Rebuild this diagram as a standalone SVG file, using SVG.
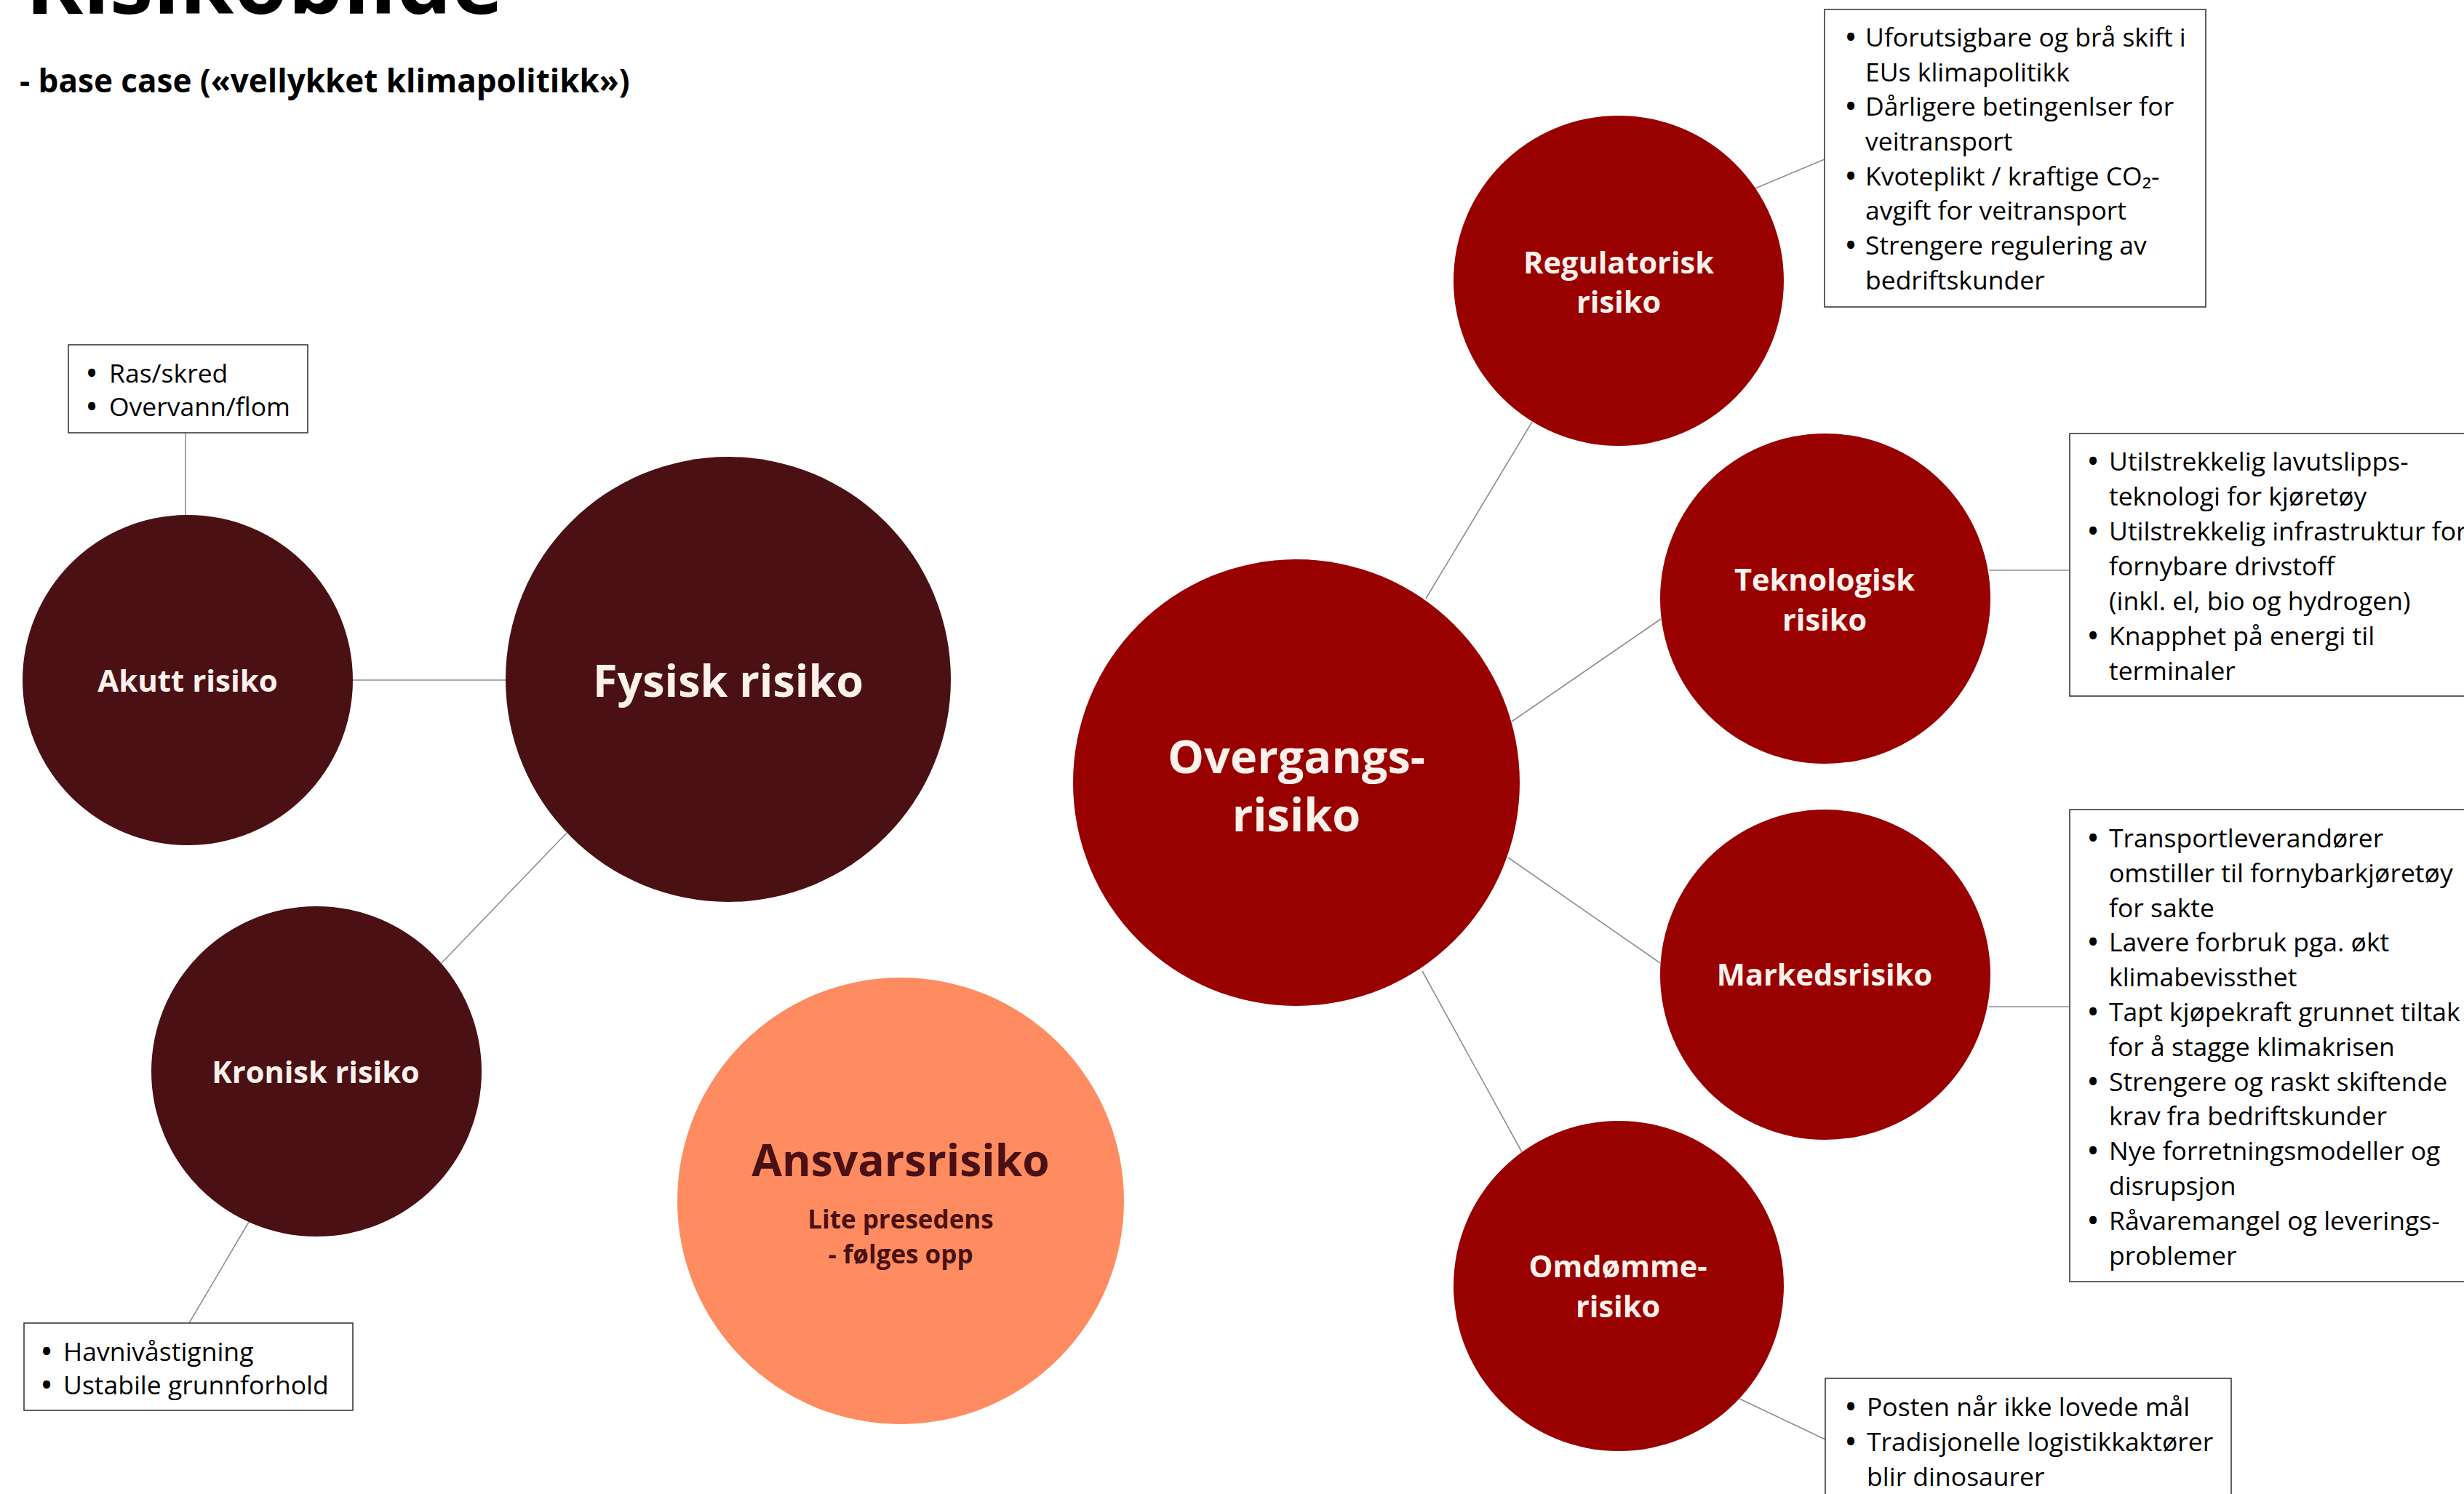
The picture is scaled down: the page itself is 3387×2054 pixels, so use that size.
<svg xmlns="http://www.w3.org/2000/svg" width="3387" height="2054" viewBox="0 0 3387 2054">
<style>
.dk{fill:#4a1013}
.rd{fill:#990000}
.sa{fill:#ff8c60}
.lbl{font-family:"Open Sans","Liberation Sans",sans-serif;font-weight:700;fill:#fdf1ec;text-anchor:middle}
.box{fill:#ffffff;stroke:#3a3a3a;stroke-width:1.6}
.bt{font-family:"Open Sans","Liberation Sans",sans-serif;font-size:35.5px;fill:#000}
.b{font-size:48px}
.con line{stroke:#8f8f8f;stroke-width:1.6}
</style>
<rect width="3387" height="2054" fill="#ffffff"/>
<g id="title">
<text x="35" y="19" font-family="Open Sans, Liberation Sans, sans-serif" font-weight="700" font-size="120" fill="#000">Risikobilde</text>
<text x="27" y="127" font-family="Open Sans, Liberation Sans, sans-serif" font-weight="700" font-size="44" fill="#000">- base case («vellykket klimapolitikk»)</text>
</g>
<g id="connectors" class="con">
<line x1="485" y1="935" x2="695" y2="935"/>
<line x1="255" y1="596" x2="255" y2="708"/>
<line x1="779" y1="1145" x2="607" y2="1324"/>
<line x1="342" y1="1680" x2="260" y2="1819"/>
<line x1="1960" y1="823" x2="2106" y2="580"/>
<line x1="2078" y1="992" x2="2283" y2="851"/>
<line x1="2073" y1="1179" x2="2282" y2="1324"/>
<line x1="1955" y1="1335" x2="2092" y2="1584"/>
<line x1="2408" y1="261" x2="2508" y2="219"/>
<line x1="2734" y1="784" x2="2845" y2="784"/>
<line x1="2734" y1="1384" x2="2845" y2="1384"/>
<line x1="2391" y1="1923" x2="2509" y2="1979"/>
</g>
<g id="fysisk">
<circle class="dk" cx="1001" cy="934" r="306"/>
<text class="lbl" x="1001" y="958" font-size="61">Fysisk risiko</text>
</g>
<g id="akutt">
<circle class="dk" cx="258" cy="935" r="227"/>
<text class="lbl" x="258" y="951" font-size="42">Akutt risiko</text>
</g>
<g id="kronisk">
<circle class="dk" cx="435" cy="1473" r="227"/>
<text class="lbl" x="434" y="1489" font-size="41.5">Kronisk risiko</text>
</g>
<g id="ansvar">
<circle class="sa" cx="1238" cy="1651" r="307"/>
<text class="lbl" x="1238" y="1617" font-size="60.5" style="fill:#4a1013">Ansvarsrisiko</text>
<text class="lbl" x="1238" y="1689" font-size="35" style="fill:#4a1013">Lite presedens</text>
<text class="lbl" x="1238" y="1737" font-size="35" style="fill:#4a1013">- følges opp</text>
</g>
<g id="overgang">
<circle class="rd" cx="1782" cy="1076" r="307"/>
<text class="lbl" x="1782" y="1063" font-size="63">Overgangs-</text>
<text class="lbl" x="1782" y="1143" font-size="63">risiko</text>
</g>
<g id="regulatorisk">
<circle class="rd" cx="2225" cy="386" r="227"/>
<text class="lbl" x="2225" y="376" font-size="41.5">Regulatorisk</text>
<text class="lbl" x="2225" y="430" font-size="41.5">risiko</text>
</g>
<g id="teknologisk">
<circle class="rd" cx="2509" cy="823" r="227"/>
<text class="lbl" x="2508" y="812" font-size="41.5">Teknologisk</text>
<text class="lbl" x="2508" y="867" font-size="41.5">risiko</text>
</g>
<g id="markeds">
<circle class="rd" cx="2509" cy="1340" r="227"/>
<text class="lbl" x="2508" y="1355" font-size="41.5">Markedsrisiko</text>
</g>
<g id="omdomme">
<circle class="rd" cx="2225" cy="1768" r="227"/>
<text class="lbl" x="2224" y="1756" font-size="41.5">Omdømme-</text>
<text class="lbl" x="2224" y="1811" font-size="41.5">risiko</text>
</g>
<g id="box-akutt">
<rect class="box" x="94" y="474" width="329" height="121"/>
<text class="bt" y="526"><tspan class="b" x="117" dy="4">•</tspan><tspan x="150" dy="-4">Ras/skred</tspan></text>
<text class="bt" y="572"><tspan class="b" x="117" dy="4">•</tspan><tspan x="150" dy="-4">Overvann/flom</tspan></text>
</g>
<g id="box-kronisk">
<rect class="box" x="33" y="1819" width="452" height="120"/>
<text class="bt" y="1871"><tspan class="b" x="55" dy="4">•</tspan><tspan x="87" dy="-4">Havnivåstigning</tspan></text>
<text class="bt" y="1917"><tspan class="b" x="55" dy="4">•</tspan><tspan x="87" dy="-4">Ustabile grunnforhold</tspan></text>
</g>
<g id="box-regulatorisk">
<rect class="box" x="2508" y="13" width="524" height="409"/>
<text class="bt" y="64"><tspan class="b" x="2535" dy="4">•</tspan><tspan x="2564" dy="-4">Uforutsigbare og brå skift i</tspan></text>
<text class="bt" x="2564" y="112">EUs klimapolitikk</text>
<text class="bt" y="159"><tspan class="b" x="2535" dy="4">•</tspan><tspan x="2564" dy="-4">Dårligere betingenlser for</tspan></text>
<text class="bt" x="2564" y="207">veitransport</text>
<text class="bt" y="255"><tspan class="b" x="2535" dy="4">•</tspan><tspan x="2564" dy="-4">Kvoteplikt / kraftige CO₂-</tspan></text>
<text class="bt" x="2564" y="302">avgift for veitransport</text>
<text class="bt" y="350"><tspan class="b" x="2535" dy="4">•</tspan><tspan x="2564" dy="-4">Strengere regulering av</tspan></text>
<text class="bt" x="2564" y="398">bedriftskunder</text>
</g>
<g id="box-teknologisk">
<rect class="box" x="2845" y="596" width="560" height="361"/>
<text class="bt" y="647"><tspan class="b" x="2868" dy="4">•</tspan><tspan x="2899" dy="-4">Utilstrekkelig lavutslipps-</tspan></text>
<text class="bt" x="2899" y="695">teknologi for kjøretøy</text>
<text class="bt" y="743"><tspan class="b" x="2868" dy="4">•</tspan><tspan x="2899" dy="-4">Utilstrekkelig infrastruktur for</tspan></text>
<text class="bt" x="2899" y="791">fornybare drivstoff</text>
<text class="bt" x="2899" y="839">(inkl. el, bio og hydrogen)</text>
<text class="bt" y="887"><tspan class="b" x="2868" dy="4">•</tspan><tspan x="2899" dy="-4">Knapphet på energi til</tspan></text>
<text class="bt" x="2899" y="935">terminaler</text>
</g>
<g id="box-markeds">
<rect class="box" x="2845" y="1113" width="560" height="649"/>
<text class="bt" y="1165"><tspan class="b" x="2868" dy="4">•</tspan><tspan x="2899" dy="-4">Transportleverandører</tspan></text>
<text class="bt" x="2899" y="1213">omstiller til fornybarkjøretøy</text>
<text class="bt" x="2899" y="1261">for sakte</text>
<text class="bt" y="1308"><tspan class="b" x="2868" dy="4">•</tspan><tspan x="2899" dy="-4">Lavere forbruk pga. økt</tspan></text>
<text class="bt" x="2899" y="1356">klimabevissthet</text>
<text class="bt" y="1404"><tspan class="b" x="2868" dy="4">•</tspan><tspan x="2899" dy="-4">Tapt kjøpekraft grunnet tiltak</tspan></text>
<text class="bt" x="2899" y="1452">for å stagge klimakrisen</text>
<text class="bt" y="1500"><tspan class="b" x="2868" dy="4">•</tspan><tspan x="2899" dy="-4">Strengere og raskt skiftende</tspan></text>
<text class="bt" x="2899" y="1547">krav fra bedriftskunder</text>
<text class="bt" y="1595"><tspan class="b" x="2868" dy="4">•</tspan><tspan x="2899" dy="-4">Nye forretningsmodeller og</tspan></text>
<text class="bt" x="2899" y="1643">disrupsjon</text>
<text class="bt" y="1691"><tspan class="b" x="2868" dy="4">•</tspan><tspan x="2899" dy="-4">Råvaremangel og leverings-</tspan></text>
<text class="bt" x="2899" y="1739">problemer</text>
</g>
<g id="box-omdomme">
<rect class="box" x="2509" y="1895" width="558" height="200"/>
<text class="bt" y="1947"><tspan class="b" x="2535" dy="4">•</tspan><tspan x="2566" dy="-4">Posten når ikke lovede mål</tspan></text>
<text class="bt" y="1995"><tspan class="b" x="2535" dy="4">•</tspan><tspan x="2566" dy="-4">Tradisjonelle logistikkaktører</tspan></text>
<text class="bt" x="2566" y="2043">blir dinosaurer</text>
</g>
</svg>
